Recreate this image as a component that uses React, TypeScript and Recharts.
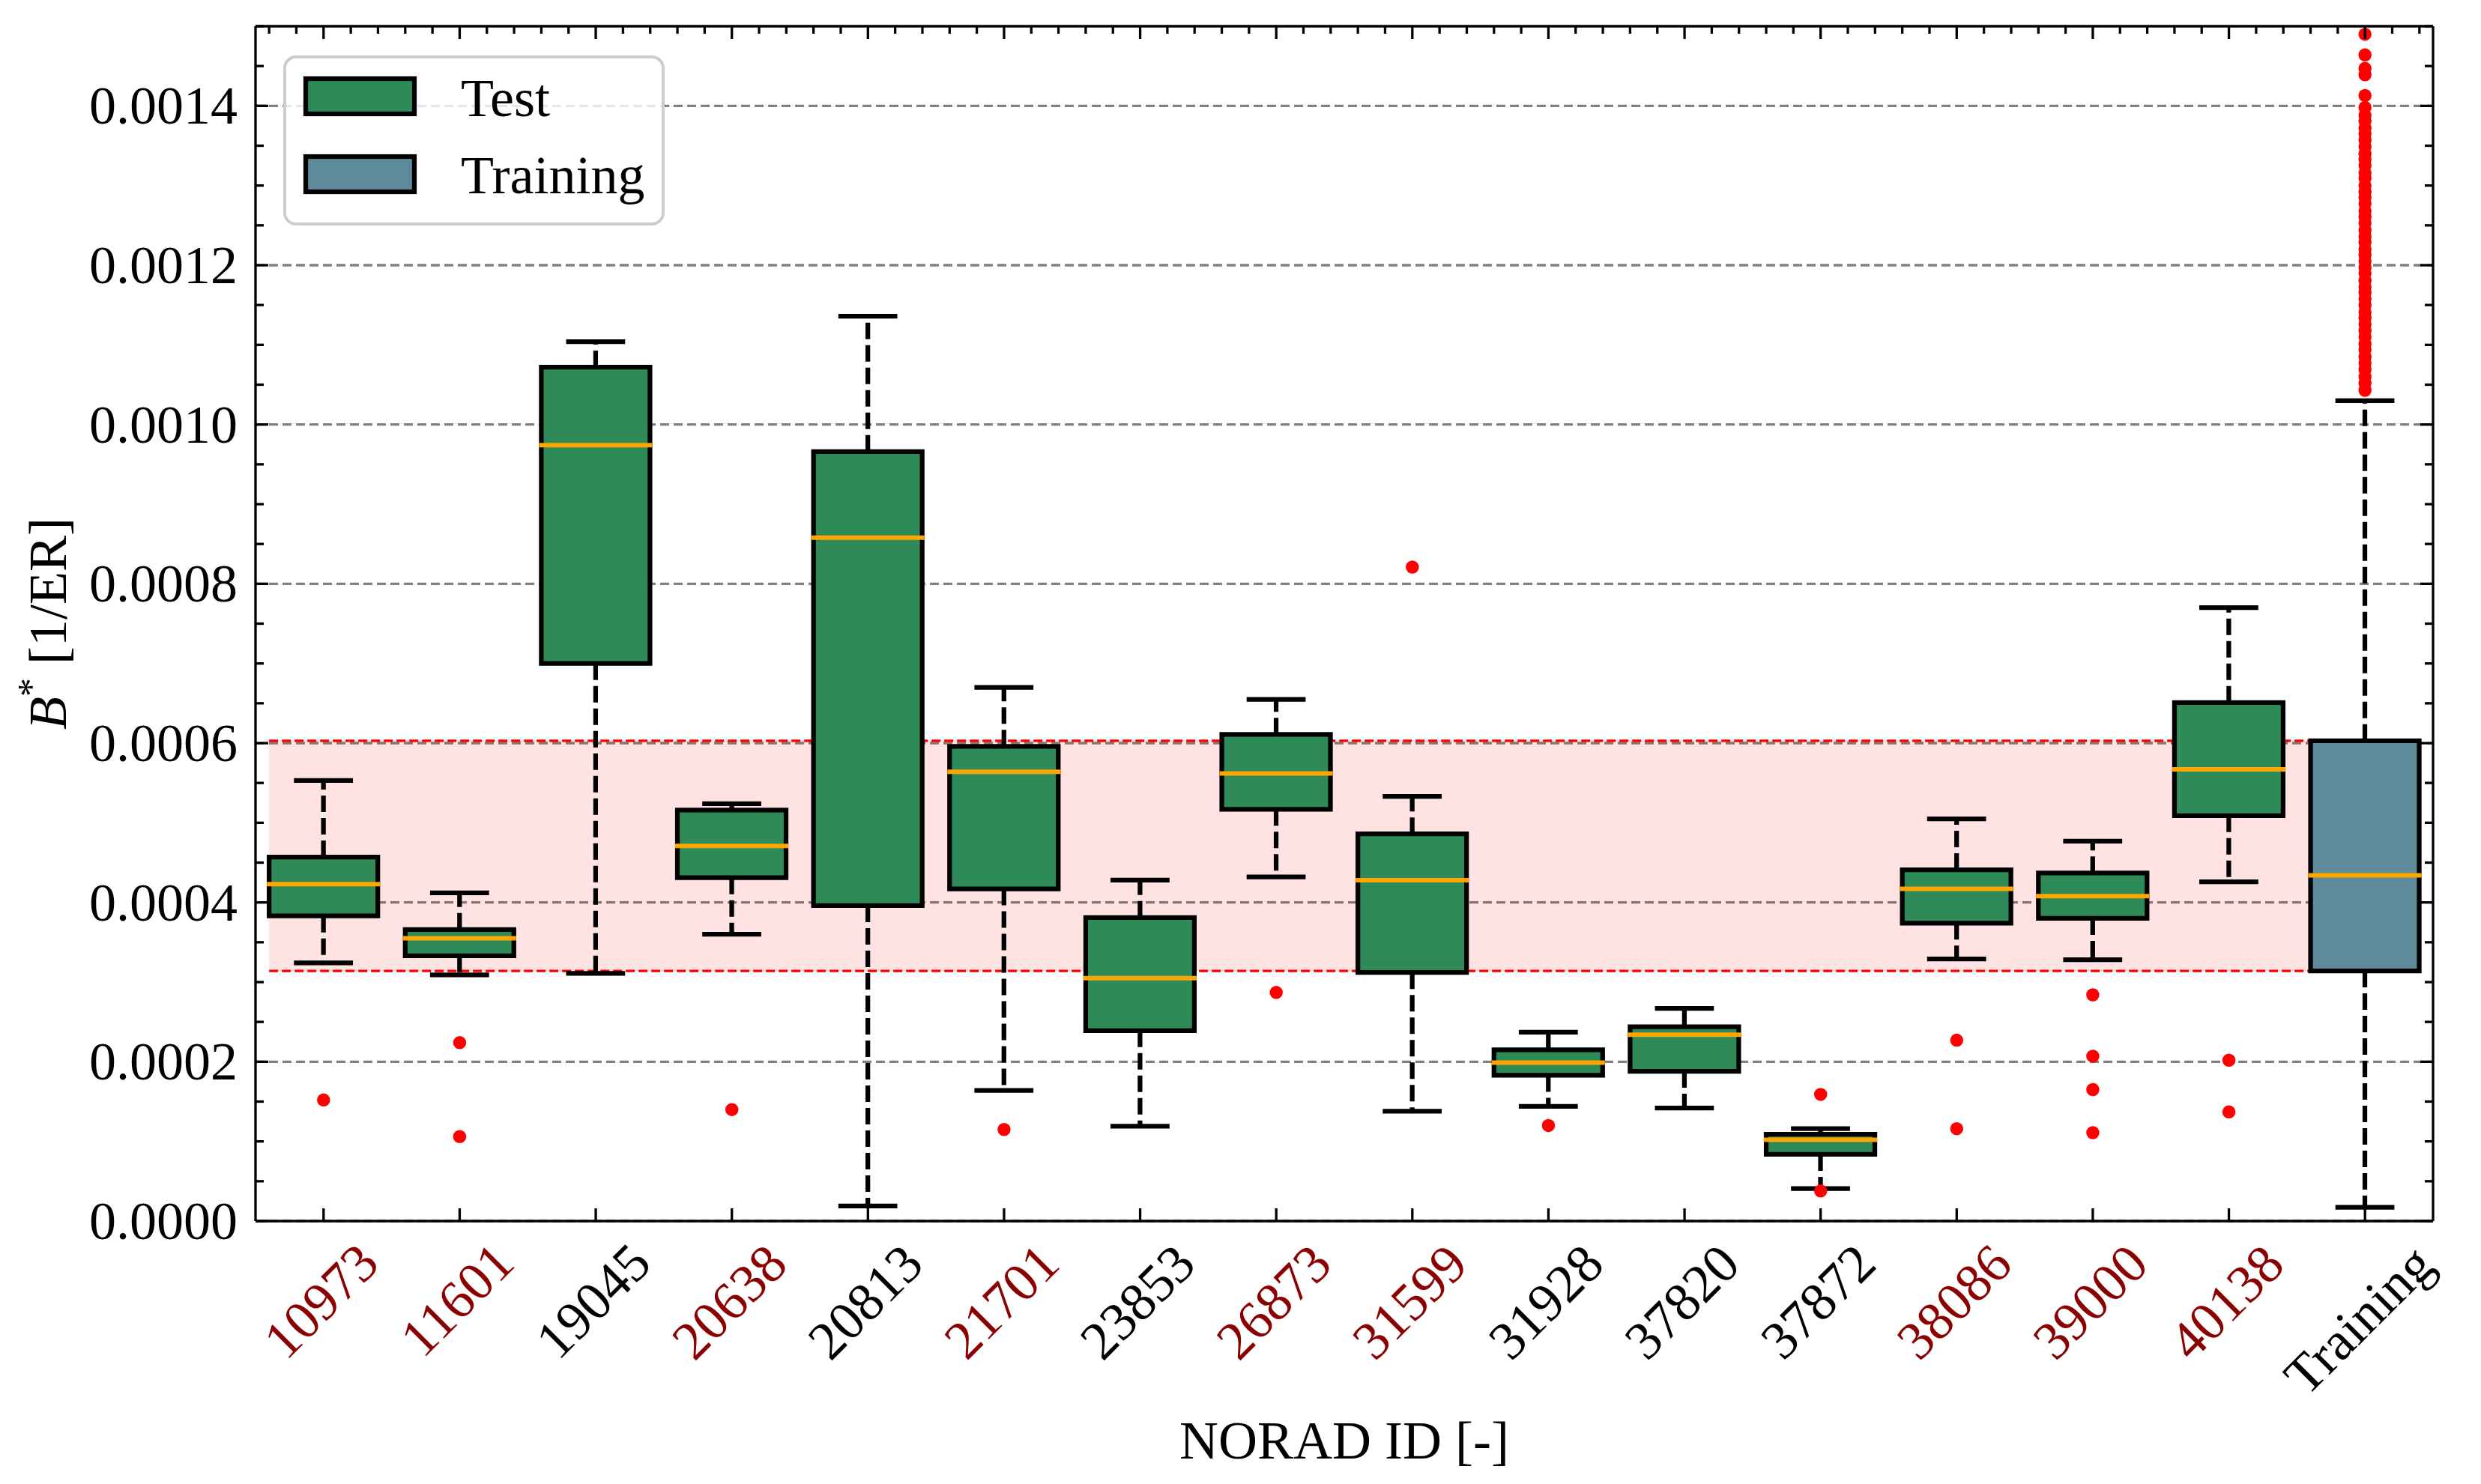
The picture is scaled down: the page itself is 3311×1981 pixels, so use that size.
import React from 'react';
import {
  ComposedChart,
  Bar,
  Scatter,
  XAxis,
  YAxis,
  CartesianGrid,
  ReferenceArea,
  Legend,
} from 'recharts';

const FONT = '"Liberation Serif", "Times New Roman", Times, serif';

// NORAD IDs of the test objects, plus the pooled training set
const NORAD_IDS = [
  '10973', '11601', '19045', '20638', '20813', '21701', '23853', '26873',
  '31599', '31928', '37820', '37872', '38086', '39000', '40138', 'Training',
];
// IDs whose tick label is printed in dark red
const RED_IDS = ['10973', '11601', '20638', '21701', '26873', '31599', '38086', '39000', '40138'];

// Box plot statistics of B* [1/ER] per object
const WHISKER_LOW = [
  0.000324, 0.000309, 0.000311, 0.00036, 0.000019, 0.000164, 0.000119, 0.000432,
  0.000138, 0.000144, 0.000142, 0.0000408, 0.000329, 0.000328, 0.000426, 0.0000173,
];
const Q1 = [
  0.000383, 0.000333, 0.0007, 0.000431, 0.000396, 0.000417, 0.000239, 0.000517,
  0.000312, 0.000183, 0.000188, 0.0000837, 0.000374, 0.00038, 0.000509, 0.000314,
];
const MEDIAN = [
  0.000423, 0.000355, 0.000974, 0.000471, 0.000858, 0.000564, 0.000305, 0.000562,
  0.000428, 0.000199, 0.000234, 0.000102, 0.000417, 0.000408, 0.000567, 0.000434,
];
const Q3 = [
  0.000457, 0.000366, 0.001072, 0.000516, 0.000966, 0.000596, 0.000381, 0.000611,
  0.000486, 0.000215, 0.000244, 0.000109, 0.000441, 0.000437, 0.000651, 0.000603,
];
const WHISKER_HIGH = [
  0.000553, 0.000412, 0.001104, 0.000524, 0.001136, 0.00067, 0.000428, 0.000655,
  0.000533, 0.000237, 0.000267, 0.000116, 0.000505, 0.000477, 0.00077, 0.00103,
];
const OUTLIERS: number[][] = [
  [0.000152],
  [0.000224, 0.000106],
  [],
  [0.00014],
  [],
  [0.000115],
  [],
  [0.000287],
  [0.000821],
  [0.00012],
  [],
  [0.000159, 0.0000378],
  [0.000227, 0.000116],
  [0.000284, 0.000207, 0.000165, 0.000111],
  [0.000202, 0.000137],
  [
    0.00149, 0.001464, 0.001447, 0.001439, 0.001413, 0.001398, 0.001388, 0.001381,
    0.001372, 0.001365, 0.001357, 0.001349, 0.00134, 0.001333, 0.001325, 0.001316,
    0.001309, 0.0013, 0.001292, 0.001285, 0.001277, 0.001268, 0.001261, 0.001253,
    0.001244, 0.001236, 0.001229, 0.00122, 0.001213, 0.001205, 0.001197, 0.00119,
    0.001181, 0.001173, 0.001166, 0.001158, 0.00115, 0.001141, 0.001134, 0.001126,
    0.001118, 0.00111, 0.001101, 0.001094, 0.001085, 0.001077, 0.001069, 0.00106,
    0.001052, 0.001043,
  ],
];

// Interquartile range of the training set (shaded band)
const BAND_LOW = 0.000314;
const BAND_HIGH = 0.000603;

const Y_MAJOR = [0, 0.0002, 0.0004, 0.0006, 0.0008, 0.001, 0.0012, 0.0014];
const Y_MINOR = [
  0.00005, 0.0001, 0.00015, 0.00025, 0.0003, 0.00035, 0.00045, 0.0005, 0.00055,
  0.00065, 0.0007, 0.00075, 0.00085, 0.0009, 0.00095, 0.00105, 0.0011, 0.00115,
  0.00125, 0.0013, 0.00135, 0.00145, 0.0015,
];

const LEGEND_ITEMS = [
  { label: 'Test', color: '#2E8B57' },
  { label: 'Training', color: '#5E8A9A' },
];

const TEST_COLOR = '#2E8B57';
const TRAIN_COLOR = '#5E8A9A';
const MEDIAN_COLOR = '#FFA500';
const BOX_LW = 6.25;
const AXIS_LW = 3.3;

const rows = NORAD_IDS.map((id, i) => ({
  id,
  base: WHISKER_LOW[i],
  lowWhisker: Q1[i] - WHISKER_LOW[i],
  lowerBox: MEDIAN[i] - Q1[i],
  upperBox: Q3[i] - MEDIAN[i],
  highWhisker: WHISKER_HIGH[i] - Q3[i],
}));

const outlierPoints = OUTLIERS.flatMap((vals, i) => vals.map((v) => ({ x: i, v })));

const yTicks = [...Y_MAJOR, ...Y_MINOR].sort((a, b) => a - b);
const isMajorY = (v: number) => Y_MAJOR.some((m) => Math.abs(m - v) < 1e-9);

// minor ticks on the top axis every fifth of a category
const topTicks: number[] = [];
for (let k = -2; k <= 77; k++) topTicks.push(Math.round(k * 2) / 10);

let measureCtx: CanvasRenderingContext2D | null = null;
const measure = (text: string, size: number) => {
  if (!measureCtx) measureCtx = document.createElement('canvas').getContext('2d');
  measureCtx!.font = `${size}px "Liberation Serif"`;
  const m = measureCtx!.measureText(text);
  return {
    w: m.actualBoundingBoxLeft + m.actualBoundingBoxRight,
    asc: m.actualBoundingBoxAscent,
    desc: m.actualBoundingBoxDescent,
  };
};

const EmptyShape = () => <g />;

const WhiskerLow = (p: any) => {
  const { x, y, width, height } = p;
  const cx = x + width / 2;
  return (
    <g>
      <line x1={cx} x2={cx} y1={y} y2={y + height} stroke="#000" strokeWidth={BOX_LW} strokeDasharray="22 8" />
      <line x1={cx - width * 0.25} x2={cx + width * 0.25} y1={y + height} y2={y + height}
        stroke="#000" strokeWidth={BOX_LW} strokeLinecap="square" />
    </g>
  );
};

const WhiskerHigh = (p: any) => {
  const { x, y, width, height } = p;
  const cx = x + width / 2;
  return (
    <g>
      <line x1={cx} x2={cx} y1={y + height} y2={y} stroke="#000" strokeWidth={BOX_LW} strokeDasharray="22 8" />
      <line x1={cx - width * 0.25} x2={cx + width * 0.25} y1={y} y2={y}
        stroke="#000" strokeWidth={BOX_LW} strokeLinecap="square" />
    </g>
  );
};

const BoxLower = (p: any) => {
  const { x, y, width, height, payload } = p;
  const fill = payload.id === 'Training' ? TRAIN_COLOR : TEST_COLOR;
  return (
    <g>
      <rect x={x} y={y} width={width} height={height} fill={fill} />
      <path d={`M${x},${y} V${y + height} H${x + width} V${y}`} fill="none" stroke="#000" strokeWidth={BOX_LW} />
    </g>
  );
};

const BoxUpper = (p: any) => {
  const { x, y, width, height, payload } = p;
  const fill = payload.id === 'Training' ? TRAIN_COLOR : TEST_COLOR;
  return (
    <g>
      <rect x={x} y={y} width={width} height={height} fill={fill} />
      <path d={`M${x},${y + height} V${y} H${x + width} V${y + height}`} fill="none" stroke="#000" strokeWidth={BOX_LW} />
      <line x1={x} x2={x + width} y1={y + height} y2={y + height} stroke={MEDIAN_COLOR} strokeWidth={6} strokeLinecap="square" />
    </g>
  );
};

const OutlierDot = (p: any) => <circle cx={p.cx} cy={p.cy} r={8.75} fill="#ff0000" />;

const BandShape = (p: any) => {
  const { x, y, width, height } = p;
  return (
    <g>
      <rect x={x} y={y} width={width} height={height} fill="#ff0000" fillOpacity={0.11} />
      <line x1={x} x2={x + width} y1={y} y2={y} stroke="#ff0000" strokeWidth={AXIS_LW} strokeDasharray="12 5" />
      <line x1={x} x2={x + width} y1={y + height} y2={y + height} stroke="#ff0000" strokeWidth={AXIS_LW} strokeDasharray="12 5" />
    </g>
  );
};

const LeftTick = (p: any) => {
  const { x, y, payload } = p;
  const v = payload.value;
  if (!isMajorY(v)) return <line x1={x} x2={x + 11} y1={y} y2={y} stroke="#000" strokeWidth={AXIS_LW} />;
  return (
    <g>
      <line x1={x} x2={x + 17} y1={y} y2={y} stroke="#000" strokeWidth={AXIS_LW} />
      <text x={x - 24} y={y + 24} textAnchor="end" fontSize={72} fontFamily={FONT} fill="#000">
        {v.toFixed(4)}
      </text>
    </g>
  );
};

const RightTick = (p: any) => {
  const { x, y, payload } = p;
  const len = isMajorY(payload.value) ? 17 : 11;
  return <line x1={x} x2={x - len} y1={y} y2={y} stroke="#000" strokeWidth={AXIS_LW} />;
};

const TopTick = (p: any) => {
  const { x, y, payload } = p;
  const v = payload.value;
  const len = Math.abs(v - Math.round(v)) < 1e-6 ? 17 : 10;
  return <line x1={x} x2={x} y1={y} y2={y + len} stroke="#000" strokeWidth={AXIS_LW} />;
};

const BottomTick = (p: any) => {
  const { x, y, payload } = p;
  const label = String(payload.value);
  const m = measure(label, 72);
  const half = (m.w + m.asc + m.desc) * 0.3536;
  const cx = x - 3;
  const cy = y + 29 + half;
  return (
    <g>
      <line x1={x} x2={x} y1={y} y2={y - 17} stroke="#000" strokeWidth={AXIS_LW} />
      <text
        x={cx}
        y={cy + (m.asc - m.desc) / 2}
        textAnchor="middle"
        fontSize={72}
        fontFamily={FONT}
        fill={RED_IDS.includes(label) ? '#8B0000' : '#000'}
        transform={`rotate(-45 ${cx} ${cy})`}
      >
        {label}
      </text>
    </g>
  );
};

const YLabel = (p: any) => {
  const vb = p.viewBox;
  const x = vb.x + 88;
  const y = vb.y + vb.height / 2;
  return (
    <text x={x} y={y} textAnchor="middle" fontSize={72} fontFamily={FONT} fill="#000" transform={`rotate(-90 ${x} ${y})`}>
      <tspan fontStyle="italic">B</tspan>
      <tspan fontSize={50} dy={-30}>*</tspan>
      <tspan dy={30}> [1/ER]</tspan>
    </text>
  );
};

const XLabel = (p: any) => {
  const vb = p.viewBox;
  return (
    <text x={vb.x + vb.width / 2} y={vb.y + 317} textAnchor="middle" fontSize={72} fontFamily={FONT} fill="#000">
      NORAD ID [-]
    </text>
  );
};

const LegendBox = () => (
  <svg width={509} height={227} style={{ display: 'block' }}>
    <rect x={2} y={2} width={505} height={223} rx={15} fill="#ffffff" fillOpacity={0.8} stroke="#cccccc" strokeWidth={4} />
    {LEGEND_ITEMS.map((item, i) => (
      <g key={item.label}>
        <rect x={30} y={31 + i * 104} width={145} height={47} fill={item.color} stroke="#000" strokeWidth={BOX_LW} />
        <text x={237} y={81 + i * 103} fontSize={72} fontFamily={FONT} fill="#000">
          {item.label}
        </text>
      </g>
    ))}
  </svg>
);

export default function App() {
  return (
    <div>
      <style>{'body{margin:0}'}</style>
      <ComposedChart
        width={3311}
        height={1981}
        data={rows}
        margin={{ top: 5, right: 0, bottom: 0, left: 0 }}
        barCategoryGap="10%"
        barGap={0}
        style={{ fontFamily: FONT }}
      >
        <CartesianGrid
          xAxisId="cat"
          yAxisId="left"
          vertical={false}
          horizontalValues={Y_MAJOR}
          stroke="#808080"
          strokeWidth={AXIS_LW}
          strokeDasharray="12 6"
        />
        <XAxis
          xAxisId="cat"
          dataKey="id"
          type="category"
          height={351}
          interval={0}
          tickSize={0}
          tickMargin={0}
          tick={<BottomTick />}
          axisLine={{ stroke: '#000', strokeWidth: AXIS_LW }}
          tickLine={false}
          label={<XLabel />}
        />
        <XAxis
          xAxisId="top"
          orientation="top"
          dataKey="x"
          type="number"
          domain={[-0.5, 15.5]}
          allowDataOverflow
          ticks={topTicks}
          interval={0}
          height={30}
          tickSize={0}
          tickMargin={0}
          tick={<TopTick />}
          axisLine={{ stroke: '#000', strokeWidth: AXIS_LW }}
          tickLine={false}
        />
        <YAxis
          yAxisId="left"
          type="number"
          domain={[0, 0.0015]}
          allowDataOverflow
          ticks={yTicks}
          interval={0}
          width={341}
          tickSize={0}
          tickMargin={0}
          tick={<LeftTick />}
          axisLine={{ stroke: '#000', strokeWidth: AXIS_LW }}
          tickLine={false}
          label={<YLabel />}
        />
        <YAxis
          yAxisId="right"
          orientation="right"
          type="number"
          domain={[0, 0.0015]}
          allowDataOverflow
          ticks={yTicks}
          interval={0}
          width={64}
          tickSize={0}
          tickMargin={0}
          tick={<RightTick />}
          axisLine={{ stroke: '#000', strokeWidth: AXIS_LW }}
          tickLine={false}
        />
        <ReferenceArea
          xAxisId="top"
          yAxisId="left"
          x1={-0.4}
          x2={15.4}
          y1={BAND_LOW}
          y2={BAND_HIGH}
          shape={<BandShape />}
          zIndex={-50}
        />
        <Bar xAxisId="cat" yAxisId="left" stackId="box" dataKey="base" shape={<EmptyShape />} isAnimationActive={false} />
        <Bar xAxisId="cat" yAxisId="left" stackId="box" dataKey="lowWhisker" shape={<WhiskerLow />} isAnimationActive={false} />
        <Bar xAxisId="cat" yAxisId="left" stackId="box" dataKey="lowerBox" shape={<BoxLower />} isAnimationActive={false} />
        <Bar xAxisId="cat" yAxisId="left" stackId="box" dataKey="upperBox" shape={<BoxUpper />} isAnimationActive={false} />
        <Bar xAxisId="cat" yAxisId="left" stackId="box" dataKey="highWhisker" shape={<WhiskerHigh />} isAnimationActive={false} />
        <Scatter
          data={outlierPoints}
          xAxisId="top"
          yAxisId="left"
          dataKey="v"
          shape={<OutlierDot />}
          isAnimationActive={false}
        />
        <Legend
          layout="vertical"
          align="center"
          verticalAlign="middle"
          content={<LegendBox />}
          wrapperStyle={{ left: 378, top: 74, width: 509, height: 227 }}
        />
      </ComposedChart>
    </div>
  );
}
